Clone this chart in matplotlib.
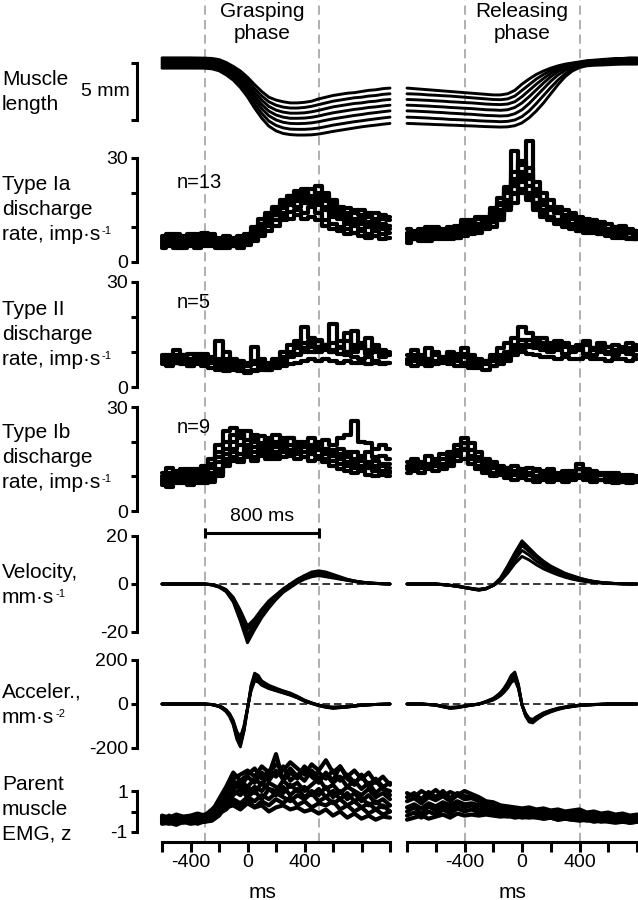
"""Grasping / releasing phase: muscle length, afferent discharge, kinematics and EMG traces."""

import numpy as np
import matplotlib
matplotlib.use("Agg")
import matplotlib.pyplot as plt
from matplotlib import transforms
from matplotlib.lines import Line2D

FIG_W, FIG_H = 638, 900

plt.rcParams['font.family'] = ['Liberation Sans', 'DejaVu Sans']
plt.rcParams['axes.unicode_minus'] = False

# time bases (ms)
t_left = np.arange(-600, 1001, 50)
t_right = np.arange(-800, 801, 50)
acc_t_left = [-600, -500, -400, -300, -250, -200, -175, -150, -125, -100, -75, -50, -25, 0,
              25, 50, 75, 100, 150, 200, 250, 300, 350, 400, 450, 500, 550, 600, 700, 800, 900, 1000]
acc_t_right = [-800, -700, -600, -550, -500, -450, -400, -350, -300, -250, -200, -175, -150, -125,
               -100, -75, -50, -25, 0, 25, 50, 75, 100, 150, 200, 250, 300, 400, 500, 600, 700, 800]

# muscle length (mm)
length_left = [
    [0.35, 0.35, 0.35, 0.35, 0.35, 0.34, 0.33, 0.3, 0.2, -0.05, -0.4, -0.8, -1.35, -2.0, -2.6, -3.1, -3.35,
     -3.5, -3.6, -3.6, -3.55, -3.45, -3.25, -3.1, -2.95, -2.85, -2.75, -2.7, -2.6, -2.5, -2.45, -2.35, -2.3],
    [0.2, 0.2, 0.2, 0.2, 0.2, 0.2, 0.19, 0.16, 0.03, -0.23, -0.57, -1.03, -1.63, -2.35, -2.99, -3.5, -3.8,
     -3.97, -4.05, -4.05, -4.0, -3.9, -3.75, -3.6, -3.45, -3.35, -3.25, -3.15, -3.1, -3.0, -2.95, -2.85, -2.8],
    [0.05, 0.05, 0.05, 0.05, 0.05, 0.05, 0.04, 0.0, -0.13, -0.41, -0.77, -1.27, -1.91, -2.68, -3.36, -3.91, -4.23,
     -4.41, -4.5, -4.5, -4.47, -4.38, -4.25, -4.1, -3.95, -3.85, -3.75, -3.65, -3.6, -3.5, -3.45, -3.35, -3.3],
    [-0.1, -0.1, -0.1, -0.1, -0.1, -0.1, -0.11, -0.15, -0.29, -0.59, -0.97, -1.51, -2.19, -3.01, -3.74, -4.32, -4.66,
     -4.85, -4.95, -4.95, -4.93, -4.86, -4.75, -4.6, -4.47, -4.37, -4.27, -4.17, -4.1, -4.0, -3.95, -3.87, -3.8],
    [-0.25, -0.25, -0.25, -0.25, -0.25, -0.25, -0.26, -0.3, -0.46, -0.77, -1.18, -1.74, -2.46, -3.34, -4.11, -4.73,
     -5.09, -5.3, -5.4, -5.42, -5.4, -5.35, -5.25, -5.12, -5.0, -4.9, -4.8, -4.7, -4.62, -4.52, -4.45, -4.37, -4.3],
    [-0.4, -0.4, -0.4, -0.4, -0.4, -0.4, -0.41, -0.45, -0.62, -0.95, -1.39, -2.0, -2.77, -3.7, -4.53, -5.19, -5.57,
     -5.79, -5.9, -5.92, -5.92, -5.88, -5.8, -5.68, -5.55, -5.45, -5.35, -5.25, -5.17, -5.08, -5.0, -4.92, -4.85],
    [-0.55, -0.55, -0.55, -0.55, -0.55, -0.55, -0.56, -0.61, -0.78, -1.14, -1.6, -2.25, -3.07, -4.06, -4.94, -5.64,
     -6.05, -6.28, -6.38, -6.42, -6.42, -6.4, -6.33, -6.22, -6.1, -6.0, -5.9, -5.8, -5.7, -5.62, -5.55, -5.47, -5.4],
]
length_right = [
    [-2.3, -2.35, -2.4, -2.45, -2.5, -2.55, -2.6, -2.65, -2.7, -2.75, -2.8, -2.85, -2.9, -2.9, -2.8, -2.5, -1.95,
     -1.5, -1.1, -0.8, -0.55, -0.35, -0.2, -0.1, 0.0, 0.1, 0.15, 0.2, 0.25, 0.3, 0.3, 0.35, 0.35],
    [-2.8, -2.82, -2.85, -2.9, -2.93, -2.97, -3.0, -3.05, -3.1, -3.15, -3.2, -3.25, -3.3, -3.32, -3.25, -3.0, -2.5,
     -2.0, -1.5, -1.1, -0.75, -0.5, -0.3, -0.15, -0.05, 0.05, 0.1, 0.15, 0.2, 0.22, 0.25, 0.27, 0.28],
    [-3.3, -3.32, -3.35, -3.38, -3.42, -3.45, -3.5, -3.53, -3.57, -3.6, -3.65, -3.7, -3.73, -3.75, -3.7, -3.5, -3.05,
     -2.5, -1.95, -1.45, -1.0, -0.65, -0.4, -0.25, -0.12, -0.02, 0.05, 0.1, 0.13, 0.15, 0.18, 0.2, 0.2],
    [-3.8, -3.82, -3.85, -3.88, -3.92, -3.95, -4.0, -4.03, -4.07, -4.1, -4.15, -4.2, -4.22, -4.25, -4.2, -4.0, -3.6,
     -3.05, -2.45, -1.85, -1.3, -0.85, -0.55, -0.35, -0.2, -0.1, -0.03, 0.02, 0.05, 0.08, 0.1, 0.12, 0.12],
    [-4.3, -4.32, -4.35, -4.38, -4.42, -4.45, -4.5, -4.53, -4.57, -4.6, -4.65, -4.7, -4.72, -4.75, -4.72, -4.55, -4.2,
     -3.65, -3.0, -2.35, -1.7, -1.15, -0.75, -0.5, -0.3, -0.18, -0.1, -0.05, -0.02, 0.0, 0.02, 0.03, 0.03],
    [-4.85, -4.87, -4.9, -4.93, -4.97, -5.0, -5.05, -5.07, -5.1, -5.13, -5.17, -5.2, -5.22, -5.25, -5.22, -5.1, -4.8,
     -4.3, -3.65, -2.95, -2.25, -1.6, -1.05, -0.65, -0.4, -0.25, -0.2, -0.15, -0.12, -0.1, -0.1, -0.08, -0.08],
    [-5.4, -5.42, -5.45, -5.47, -5.5, -5.52, -5.55, -5.57, -5.6, -5.62, -5.65, -5.68, -5.7, -5.72, -5.7, -5.6, -5.35,
     -4.9, -4.3, -3.6, -2.8, -2.0, -1.3, -0.8, -0.5, -0.35, -0.3, -0.28, -0.25, -0.22, -0.2, -0.2, -0.2],
]

# type Ia discharge (imp/s)
ia_left = [
    [7, 8, 7.5, 6.5, 8, 7, 8.5, 7.5, 6.5, 7, 6, 7.5, 8, 10, 12.5, 14, 15.5, 17, 18, 19.5, 18.5, 21, 20, 19, 17,
     16, 15.5, 14, 15, 13, 14, 12.5, 13],
    [5.5, 6, 5, 6.5, 5.5, 6, 5.5, 6.5, 5, 5.5, 5, 6, 6.5, 8.5, 10, 12, 13.5, 15.5, 17, 16, 18, 17, 22, 18.5, 15,
     14, 12, 12.5, 11, 11.5, 10, 10.5, 9.5],
    [4.5, 5, 4, 5, 4.5, 5.5, 5, 4.5, 4, 4.5, 4.5, 5, 5.5, 7, 8.5, 10.5, 12, 13, 14.5, 15, 14, 16, 14, 12, 11,
     10, 9.5, 8.5, 9, 8, 7.5, 8, 7],
    [6.5, 7, 6, 7.5, 6.5, 8, 7, 6, 5.5, 6, 5.5, 6.5, 7.5, 9, 11, 13.5, 16, 18, 19, 20.5, 21, 19, 18, 17.5, 16,
     14.5, 13.5, 12, 12.5, 11, 12, 11, 10.5],
    [5, 5.5, 6.5, 5, 6, 5, 6.5, 5.5, 5, 6.5, 4.5, 5.5, 6, 7.5, 9.5, 11, 13.5, 14, 16.5, 18, 17, 18.5, 16.5, 15, 13,
     12.5, 11, 10.5, 9.5, 10, 9, 9.5, 8.5],
    [6, 7.5, 5.5, 7, 6, 7.5, 6, 7, 6, 5, 6.5, 5, 7, 8, 11, 12.5, 14.5, 16, 17.5, 18.5, 19.5, 17, 19, 16, 14,
     13, 12.5, 11, 11.5, 10.5, 11, 10, 10.5],
    [7.5, 6.5, 8, 6, 7, 6.5, 7.5, 8, 7, 7.5, 7, 6, 6.5, 9, 10.5, 12.5, 15, 16.5, 19, 17.5, 20, 18, 17, 20, 18,
     15.5, 14, 15, 13.5, 14, 12.5, 13.5, 12],
    [4, 4.5, 5.5, 4, 5, 4, 4.5, 5, 4.5, 4, 5, 4, 5, 6, 7.5, 9, 10.5, 12, 12.5, 13.5, 12.5, 13, 12, 10.5, 9.5,
     9, 8, 8.5, 7.5, 7, 7.5, 6.5, 7],
]
ia_right = [
    [8, 9, 7.5, 10, 8.5, 9, 8, 10.5, 9, 11, 12.5, 11, 13, 15, 18, 22, 25, 27, 23, 20, 18, 16, 15, 14, 13,
     12.5, 12, 11.5, 11, 10, 10.5, 9.5, 9],
    [6.5, 7, 6, 7.5, 6.5, 7.5, 7, 8, 9.5, 8, 9, 10.5, 11.5, 13, 16, 19.5, 24, 35, 17, 15, 13, 12, 11, 10.5, 9.5,
     9, 9.5, 8.5, 8, 8.5, 7.5, 7, 7],
    [7.5, 6.5, 8.5, 7, 9, 7.5, 9.5, 8.5, 12, 10, 11, 13, 15.5, 17, 21, 32, 26, 22, 19, 16.5, 15, 14, 12.5, 11, 12,
     10.5, 10, 9.5, 9, 8.5, 8, 8.5, 7.5],
    [9.5, 8, 9, 6.5, 7.5, 8, 6.5, 7, 8, 9, 10, 9.5, 10, 12, 15, 17, 20, 18, 15, 13, 12, 11.5, 10, 9.5, 9,
     8.5, 9, 8, 7.5, 7, 7.5, 6.5, 6.5],
    [7, 7.5, 8.5, 8, 7, 9.5, 10, 9, 10.5, 12, 10.5, 12, 14, 16.5, 20, 24, 28, 24, 21, 18, 16, 15, 13.5, 12.5, 11,
     11.5, 10, 10.5, 9.5, 9, 9.5, 8.5, 8],
    [6, 6.5, 7, 6, 8, 6.5, 7.5, 7, 8.5, 9.5, 8.5, 10, 12, 14.5, 17, 23, 21, 19, 16, 14, 12.5, 11, 10.5, 10, 9,
     9.5, 8.5, 8, 8.5, 7.5, 7, 7, 6.5],
    [8.5, 7.5, 9.5, 9, 10, 8.5, 8, 9.5, 11, 10.5, 13, 12, 14.5, 18.5, 21.5, 26, 29, 25, 20, 17.5, 15.5, 14, 12, 13,
     11.5, 10.5, 11, 10, 9.5, 10, 9, 8.5, 9],
    [5.5, 7, 6.5, 8, 7, 8, 9, 8, 7.5, 8.5, 9.5, 11, 11.5, 13.5, 16, 20, 23, 20, 17, 14.5, 13, 12, 11.5, 10, 10.5,
     9.5, 9, 8.5, 8, 7.5, 8, 7, 6.5],
]

# type II discharge (imp/s)
ii_left = [
    [8, 9, 7, 8, 9.5, 8, 7.5, 8, 13, 7, 6.5, 7, 6, 11.5, 6.5, 7, 8, 10, 12, 13, 17, 14, 13, 12, 18,
     13, 15.5, 12, 11, 14, 11, 10, 9],
    [7, 6.5, 8, 7, 6, 7, 6.5, 7, 6, 5.5, 6, 5, 4.5, 5, 5.5, 5, 6, 7, 8.5, 9, 10, 11.5, 10, 12, 10.5,
     11, 13, 10, 12, 10.5, 11, 9.5, 10],
    [6.5, 6, 7, 6.5, 6, 6.5, 6, 5.5, 5, 4.5, 5, 4.5, 4, 4.5, 5, 5, 5.5, 6, 6.5, 7, 7.5, 8, 7.5, 8, 7.5,
     7, 7.5, 7, 7, 6.5, 7, 6.5, 7],
    [9, 8, 10.5, 9, 8, 9.5, 8, 7, 7.5, 10, 8, 6, 6.5, 7, 6, 6.5, 7, 8, 9, 11, 12.5, 10, 11, 12, 10,
     11.5, 10, 16, 11, 10, 12, 10.5, 9.5],
    [7.5, 8.5, 7, 9, 7, 8, 9, 8.5, 7, 8, 7, 7.5, 6.5, 7.5, 7, 6.5, 7.5, 8, 9, 9.5, 11, 12, 13.5, 11, 10,
     9.5, 9, 8.5, 8, 8.5, 7.5, 7, 7],
    [8.5, 7.5, 9, 8.5, 7, 8.5, 9.5, 7.5, 8, 6.5, 7, 6, 7, 6.5, 8, 6, 7, 8.5, 10, 12, 11, 13, 11.5, 10.5, 12.5,
     11.5, 10, 11, 12.5, 9.5, 10, 8.5, 9],
]
ii_right = [
    [9, 10.5, 8, 11, 9, 8.5, 10, 9.5, 11, 9, 8, 7.5, 9, 11, 12.5, 14, 17, 15.5, 13, 14, 12.5, 13, 12, 11.5, 12,
     13, 11, 12.5, 11.5, 12, 11, 12.5, 12],
    [7, 7.5, 8.5, 7, 7.5, 8, 7, 7.5, 7, 6.5, 6, 6.5, 6, 7.5, 9, 11, 12, 11.5, 11, 10.5, 10, 10.5, 9.5, 10, 10.5,
     9.5, 9, 10, 9.5, 9, 10, 9.5, 9],
    [6.5, 6, 6.5, 6, 6.5, 7, 6.5, 6, 6, 5.5, 5.5, 5, 6, 6.5, 7.5, 9, 10, 9.5, 9, 8.5, 8.5, 8, 8.5, 8, 8,
     8.5, 8, 8, 7.5, 8, 8, 7.5, 8],
    [8, 9, 7.5, 8, 10, 8.5, 9, 8, 8.5, 7.5, 7, 7.5, 8.5, 9, 10, 12, 13.5, 12, 14, 11.5, 11, 12, 12.5, 11, 10.5,
     12, 11, 10.5, 11.5, 10, 10.5, 11, 10.5],
    [7.5, 8, 9, 8, 9.5, 7.5, 8, 8.5, 9.5, 8, 6.5, 7, 7.5, 8, 8.5, 10, 11, 13.5, 12, 12.5, 11.5, 11, 11.5, 10.5, 11,
     9.5, 10.5, 11.5, 10, 10.5, 11.5, 10, 11],
]

# type Ib discharge (imp/s)
ib_left = [
    [10, 11, 10.5, 11.5, 12, 11, 12, 13.5, 17, 20, 22, 21, 23, 20, 21.5, 19, 22, 20, 21, 19.5, 20, 21, 19, 20.5, 19,
     21, 22, 26, 20, 19.5, 18, 19, 18],
    [8, 8.5, 9, 8, 9.5, 8.5, 9, 10, 12, 15, 17, 16.5, 18, 17, 17.5, 18, 17, 18.5, 17.5, 18, 17, 18, 17.5, 16.5, 16,
     15, 15.5, 14, 14.5, 13.5, 13, 13.5, 12.5],
    [7.5, 7, 8, 8.5, 7.5, 8, 8, 8.5, 10, 13, 14.5, 15, 15.5, 14.5, 16, 15, 16, 15.5, 16.5, 15, 15.5, 14.5, 15, 14, 13,
     12, 11.5, 11, 11.5, 10.5, 10, 10.5, 10],
    [11, 12.5, 11.5, 12, 10.5, 12, 13, 15, 19, 23, 24, 22, 20.5, 22, 19.5, 21, 20, 19, 21, 20, 18.5, 19, 20, 18, 17.5,
     18, 16.5, 17, 16, 17, 15.5, 16, 15],
    [9, 9.5, 10, 9.5, 10, 10.5, 10, 11, 14, 16.5, 18, 19, 17.5, 18.5, 18, 17, 19, 18, 17.5, 18.5, 19, 17, 18, 17.5, 16,
     15.5, 14, 13.5, 13, 12.5, 12, 11.5, 11],
    [9.5, 10.5, 9, 10.5, 11, 9.5, 11, 12.5, 15.5, 18, 20, 23, 19, 21, 18.5, 20, 18.5, 21, 19, 17.5, 19, 18.5, 17.5,
     18, 17, 16.5, 17, 15, 15.5, 14, 14.5, 13, 13.5],
    [8.5, 8, 9.5, 9, 8.5, 9, 9.5, 9, 11, 14, 15.5, 14, 16.5, 15.5, 17, 16, 15, 17, 16, 16.5, 15.5, 16.5, 16, 15, 14.5,
     13.5, 13, 12.5, 12, 12.5, 11.5, 11, 11.5],
]
ib_right = [
    [14, 15, 13.5, 16, 15, 16.5, 17, 19, 18, 16, 14.5, 13, 13.5, 12, 12.5, 11.5, 12, 11, 11.5, 10.5, 11, 10.5, 11,
     11.5, 13.5, 12, 11.5, 11, 10.5, 11, 10, 10.5, 10],
    [12, 11.5, 12.5, 12, 13, 12.5, 14, 16, 17.5, 15, 13, 12, 11, 11.5, 10.5, 11, 10, 10.5, 9.5, 10, 9.5, 10, 9,
     9.5, 10.5, 10, 9.5, 9, 9.5, 9, 8.5, 9, 8.5],
    [13, 14, 12.5, 13.5, 14.5, 13.5, 15, 17.5, 21, 19.5, 17, 15, 14, 13, 12.5, 13, 12, 12.5, 12, 11.5, 12, 11, 11.5,
     11, 12, 11.5, 11, 10.5, 11, 10, 10.5, 10, 9.5],
    [11, 12, 11, 12.5, 11.5, 12, 13, 14.5, 15, 13.5, 12, 11, 10, 10.5, 9.5, 9, 9.5, 9, 8.5, 9, 8.5, 9, 8.5,
     9, 9.5, 9, 8.5, 9, 8.5, 8, 8.5, 8, 8.5],
    [12.5, 13, 14, 13, 14, 15, 16, 17, 19.5, 17.5, 15.5, 14, 12.5, 12, 11.5, 10.5, 11, 10.5, 10, 10.5, 10, 9.5, 10,
     10.5, 12, 11, 10, 10.5, 10, 9.5, 9.5, 9, 9],
]

# velocity (mm/s)
vel_left = [
    [0, 0, 0, 0, 0, 0, 0, -0.4, -1.3, -3.2, -7.5, -15.5, -24.5, -19, -14, -10, -6.5, -3.5, -1.5, 0.5, 2, 3, 3.5, 3,
     2.5, 2, 1.5, 1, 0.6, 0.3, 0.2, 0.1, 0],
    [0, 0, 0, 0, 0, 0, 0, -0.3, -1.1, -2.8, -6.5, -13.5, -21, -17, -12.5, -9, -6, -3, -0.8, 1.2, 3, 4.5, 5, 4.5,
     3.5, 2.5, 1.8, 1.2, 0.8, 0.5, 0.3, 0.1, 0],
    [0, 0, 0, 0, 0, 0, 0, -0.3, -1, -2.5, -6, -12, -19, -15.5, -11.5, -8, -5, -2.5, -0.3, 1.5, 3.5, 5, 5.5, 5,
     4, 3, 2, 1.3, 0.8, 0.5, 0.3, 0.1, 0],
    [0, 0, 0, 0, 0, 0, 0, -0.2, -0.9, -2.3, -5.5, -11, -17.5, -14.5, -10.5, -7, -4.5, -2, 0, 2, 3.5, 4.5, 4.5, 4,
     3.5, 2.5, 1.8, 1.2, 0.7, 0.4, 0.2, 0.1, 0],
    [0, 0, 0, 0, 0, 0, 0, -0.4, -1.2, -3, -7, -14.5, -22.5, -18, -13, -9.5, -6, -3.2, -1.2, 0.8, 2.5, 3.5, 4, 3.5,
     3, 2.2, 1.6, 1.1, 0.7, 0.4, 0.2, 0.1, 0],
]
vel_right = [
    [0, 0, 0, 0, 0, -0.3, -0.6, -1, -1.5, -2, -2.5, -2, -0.5, 2.5, 7.5, 13, 18, 15, 12, 9.5, 7.5, 6, 4.5, 3.5,
     2.5, 1.7, 1.1, 0.7, 0.4, 0.2, 0.1, 0, 0],
    [0, 0, 0, 0, 0, -0.3, -0.6, -1, -1.5, -2, -2.4, -1.9, -0.6, 2, 6.5, 11.5, 16, 13.5, 11, 8.5, 6.8, 5.3, 4, 3,
     2.2, 1.5, 1, 0.6, 0.4, 0.2, 0.1, 0, 0],
    [0, 0, 0, 0, 0, -0.2, -0.5, -0.9, -1.4, -1.9, -2.3, -1.8, -0.6, 1.6, 5.5, 10, 14, 12, 9.5, 7.5, 6, 4.6, 3.5,
     2.6, 1.8, 1.2, 0.8, 0.5, 0.3, 0.2, 0.1, 0, 0],
    [0, 0, 0, 0, 0, -0.2, -0.5, -0.8, -1.3, -1.8, -2.2, -1.8, -0.7, 1.2, 4.5, 8.5, 11.5, 10, 8, 6.3, 5, 3.8, 2.8,
     2, 1.4, 0.9, 0.6, 0.4, 0.2, 0.1, 0, 0, 0],
    [0, 0, 0, 0, 0, -0.3, -0.6, -1, -1.5, -2.1, -2.6, -2.1, -0.5, 2.2, 7, 12.5, 17, 14, 11.5, 9, 7, 5.5, 4.2, 3.2,
     2.3, 1.6, 1, 0.6, 0.4, 0.2, 0.1, 0, 0],
]

# acceleration (mm/s^2)
acc_left = [
    [0, 0, 0, 0, -3, -12, -22, -35, -58, -95, -160, -195, -125, -25, 85, 140, 130, 105, 85, 72, 60, 50, 35, 18,
     5, -6, -14, -18, -14, -6, -2, 0],
    [0, 0, 0, 0, -3, -10, -18, -30, -50, -85, -140, -170, -110, -20, 70, 115, 110, 90, 75, 65, 55, 45, 30, 15,
     5, -5, -12, -15, -12, -5, -2, 0],
    [0, 0, 0, 0, -2, -8, -15, -26, -44, -75, -125, -150, -100, -18, 60, 105, 100, 85, 70, 60, 50, 40, 28, 12,
     2, -8, -15, -20, -14, -6, -2, 0],
    [0, 0, 0, 0, -3, -11, -20, -32, -54, -90, -150, -185, -120, -22, 78, 128, 120, 98, 80, 68, 58, 47, 33, 16,
     4, -6, -13, -17, -13, -5, -2, 0],
    [0, 0, 0, 0, -2, -9, -16, -28, -47, -80, -132, -160, -105, -19, 65, 110, 105, 88, 72, 62, 52, 42, 29, 14,
     3, -5, -11, -14, -11, -5, -2, 0],
]
acc_right = [
    [0, 0, -5, -12, -20, -16, -10, -5, 0, 12, 26, 38, 52, 72, 98, 130, 145, 90, -5, -55, -82, -86, -72, -50,
     -36, -25, -17, -7, -3, 0, 0, 0],
    [0, 0, -5, -12, -18, -15, -10, -5, 0, 10, 22, 32, 45, 62, 85, 115, 130, 80, -5, -50, -75, -78, -65, -45,
     -32, -22, -15, -6, -3, 0, 0, 0],
    [0, 0, -4, -10, -15, -13, -8, -4, 0, 8, 18, 27, 38, 53, 72, 98, 110, 70, -3, -42, -65, -70, -58, -40,
     -28, -19, -13, -5, -2, 0, 0, 0],
    [0, 0, -6, -13, -19, -17, -11, -6, -1, 11, 24, 35, 48, 67, 92, 122, 138, 85, -4, -52, -78, -82, -68, -48,
     -34, -23, -16, -7, -3, 0, 0, 0],
    [0, 0, -4, -11, -16, -14, -9, -4, 0, 9, 20, 29, 41, 57, 78, 105, 120, 75, -4, -46, -70, -74, -62, -42,
     -30, -20, -14, -5, -2, 0, 0, 0],
]

# parent muscle EMG (z)
emg_left = [
    [-0.2, -0.3, -0.15, -0.25, -0.2, -0.1, -0.2, 0.1, 0.4, 1.0, 1.6, 1.8, 2.0, 1.7, 2.2, 1.9, 2.3, 2.0, 2.4, 2.1,
     1.8, 2.3, 2.0, 2.5, 1.9, 2.2, 1.7, 2.0, 1.6, 1.9, 1.4, 1.7, 1.3],
    [-0.35, -0.25, -0.4, -0.3, -0.35, -0.25, -0.15, -0.05, 0.3, 0.8, 1.3, 1.5, 1.2, 1.6, 1.3, 1.8, 2.8, 1.5, 1.9,
     1.6, 2.1, 1.7, 1.4, 1.9, 1.5, 2.2, 1.6, 1.3, 1.8, 1.2, 1.5, 1.1, 1.0],
    [-0.5, -0.4, -0.55, -0.45, -0.5, -0.4, -0.45, -0.3, 0.0, 0.5, 1.0, 0.8, 1.2, 0.9, 1.4, 1.1, 1.0, 1.5, 1.2,
     1.4, 1.0, 1.3, 1.6, 1.1, 1.3, 0.9, 1.2, 1.0, 0.8, 1.1, 0.7, 0.9, 0.6],
    [-0.6, -0.55, -0.65, -0.5, -0.6, -0.55, -0.5, -0.45, -0.2, 0.3, 0.6, 0.4, 0.7, 0.5, 0.8, 0.6, 0.9, 0.7, 0.5,
     0.8, 0.6, 0.9, 0.5, 0.7, 0.4, 0.6, 0.3, 0.5, 0.2, 0.4, 0.1, 0.3, 0.0],
    [-0.45, -0.5, -0.35, -0.45, -0.4, -0.5, -0.35, -0.2, 0.1, 0.2, 0.3, 0.1, 0.4, 0.2, 0.3, 0.0, 0.2, 0.3, 0.1,
     0.2, 0.0, 0.1, -0.1, 0.1, -0.2, 0.0, -0.3, -0.1, -0.35, -0.2, -0.4, -0.25, -0.3],
    [-0.3, -0.45, -0.3, -0.4, -0.25, -0.35, -0.3, -0.1, 0.2, 0.6, 1.1, 1.3, 0.9, 1.2, 1.0, 1.4, 1.2, 0.9, 1.3,
     1.0, 1.2, 0.8, 1.1, 0.7, 1.0, 0.6, 0.9, 0.5, 0.7, 0.3, 0.5, 0.2, 0.3],
    [-0.4, -0.2, -0.45, -0.3, -0.5, -0.25, -0.4, -0.15, 0.35, 0.9, 1.5, 1.2, 1.7, 1.4, 1.9, 1.5, 2.0, 1.6, 2.1,
     1.7, 2.2, 1.8, 1.9, 1.6, 2.0, 1.5, 1.8, 1.4, 1.7, 1.3, 1.6, 1.2, 1.4],
    [-0.55, -0.35, -0.6, -0.4, -0.55, -0.35, -0.5, -0.35, 0.05, 0.4, 0.8, 1.1, 0.7, 1.0, 0.6, 1.1, 0.8, 1.2, 0.8,
     1.1, 0.7, 1.0, 0.8, 1.2, 0.7, 1.0, 0.6, 0.9, 0.5, 0.8, 0.4, 0.6, 0.3],
    [-0.25, -0.4, -0.2, -0.35, -0.3, -0.2, -0.25, 0.0, 0.6, 1.2, 1.9, 1.5, 1.8, 2.1, 1.6, 2.0, 1.7, 2.2, 1.5,
     1.8, 1.5, 2.0, 1.6, 1.8, 1.4, 1.7, 1.2, 1.5, 1.1, 1.4, 0.9, 1.2, 0.8],
    [-0.5, -0.6, -0.45, -0.55, -0.45, -0.6, -0.45, -0.3, -0.1, 0.1, 0.5, 0.3, 0.6, 0.2, 0.5, 0.3, 0.6, 0.4, 0.7,
     0.3, 0.5, 0.2, 0.4, 0.3, 0.5, 0.1, 0.3, 0.0, 0.2, -0.1, 0.1, -0.15, 0.0],
]
emg_right = [
    [0.9, 0.7, 1.0, 0.8, 1.05, 0.75, 0.95, 0.8, 1.0, 0.85, 0.7, 0.5, 0.45, 0.3, 0.25, 0.2, 0.15, 0.2, 0.1, 0.15,
     0.05, 0.1, 0.0, 0.05, 0.1, -0.05, 0.0, -0.1, -0.05, -0.15, -0.1, -0.2, -0.15],
    [0.5, 0.65, 0.4, 0.7, 0.55, 0.75, 0.5, 0.8, 0.6, 0.65, 0.5, 0.35, 0.3, 0.15, 0.1, 0.05, 0.0, 0.05, -0.05,
     0.0, -0.1, -0.05, -0.15, -0.1, -0.2, -0.15, -0.2, -0.25, -0.2, -0.3, -0.25, -0.3, -0.3],
    [0.2, 0.35, 0.15, 0.4, 0.25, 0.45, 0.3, 0.5, 0.35, 0.4, 0.3, 0.2, 0.1, 0.0, -0.05, -0.1, -0.15, -0.1, -0.2,
     -0.15, -0.25, -0.2, -0.3, -0.25, -0.35, -0.3, -0.35, -0.4, -0.35, -0.45, -0.4, -0.45, -0.45],
    [-0.2, -0.05, -0.3, 0.0, -0.15, 0.1, -0.1, 0.15, 0.0, 0.1, -0.05, -0.1, -0.15, -0.2, -0.25, -0.2, -0.3, -0.25,
     -0.3, -0.35, -0.3, -0.4, -0.35, -0.4, -0.45, -0.4, -0.5, -0.45, -0.5, -0.55, -0.5, -0.55, -0.5],
    [-0.4, -0.3, -0.2, -0.35, -0.25, -0.15, -0.3, -0.1, -0.2, -0.15, -0.2, -0.15, -0.2, -0.25, -0.2, -0.3, -0.25,
     -0.3, -0.25, -0.35, -0.3, -0.4, -0.35, -0.4, -0.35, -0.45, -0.4, -0.5, -0.45, -0.5, -0.45, -0.55, -0.5],
    [0.7, 0.9, 0.6, 0.95, 0.7, 1.0, 0.65, 0.9, 0.75, 0.7, 0.55, 0.4, 0.3, 0.2, 0.15, 0.05, 0.1, 0.0, 0.05, -0.05,
     0.0, -0.1, -0.05, -0.15, -0.05, -0.2, -0.1, -0.2, -0.15, -0.25, -0.2, -0.3, -0.25],
    [0.0, 0.2, -0.1, 0.25, 0.05, 0.3, 0.1, 0.35, 0.2, 0.3, 0.1, 0.05, -0.05, -0.1, -0.15, -0.2, -0.2, -0.25, -0.2,
     -0.3, -0.25, -0.3, -0.25, -0.35, -0.3, -0.4, -0.35, -0.4, -0.45, -0.4, -0.5, -0.45, -0.45],
]

row_labels = ["Muscle\nlength",
              "Type Ia\ndischarge\nrate, imp·s",
              "Type II\ndischarge\nrate, imp·s",
              "Type Ib\ndischarge\nrate, imp·s",
              "Velocity,\nmm·s",
              "Acceler.,\nmm·s",
              "Parent\nmuscle\nEMG, z"]
row_label_sups = ["", "-1", "-1", "-1", "-1", "-2", ""]
unit_counts = ["", "n=13", "n=5", "n=9", "", "", ""]
phase_titles = ["Grasping\nphase", "Releasing\nphase"]
grasp_marks = [-300, 500]
release_marks = [-400, 400]

# layout in pixels (top-left origin)
LEFT_X = (162, 390)
RIGHT_X = (407, 637)
ROWS = [
    # top, bottom, ylim, yticks, ytick labels, label top, style
    (63, 120, (-5.1, -0.1), [-5.1, -0.1], ["", ""], 70, "line"),
    (158, 262, (0, 30), [0, 10, 20, 30], ["0", "", "", "30"], 175, "steps"),
    (282, 387, (0, 30), [0, 10, 20, 30], ["0", "", "", "30"], 300, "steps"),
    (407, 511, (0, 30), [0, 10, 20, 30], ["0", "", "", "30"], 423, "steps"),
    (536, 632, (-20, 20), [-20, 0, 20], ["-20", "0", "20"], 563, "line"),
    (660, 748, (-200, 200), [-200, 0, 200], ["-200", "0", "200"], 683, "line"),
    (791, 832, (-1, 1), [-1, 0, 1], ["-1", "", "1"], 775, "noisy"),
]
SPINE_W = 2.2
LINE_STEP = 25  # px between label lines


def add_px_axes(fig, x0, x1, y0, y1):
    """Add an axes from pixel edges measured from the top-left corner."""
    ax = fig.add_axes([x0 / FIG_W, 1 - y1 / FIG_H, (x1 - x0) / FIG_W, (y1 - y0) / FIG_H])
    ax.set_facecolor("none")
    for side in ("top", "right", "left", "bottom"):
        ax.spines[side].set_visible(False)
    ax.set_xticks([])
    ax.set_yticks([])
    return ax


def draw_traces(ax, t, traces, style):
    kw = dict(color="black", clip_on=False, solid_joinstyle="round", solid_capstyle="round")
    for tr in traces:
        if style == "steps":
            ax.plot(t, tr, lw=3.0, drawstyle="steps-mid", **kw)
        elif style == "noisy":
            ax.plot(t, tr, lw=3.0, **kw)
        else:
            ax.plot(t, tr, lw=2.1, **kw)


def put_row_label(fig, renderer, top_px, text, sup):
    """Write a row label line by line; the superscript goes after the last line."""
    lines = text.split("\n")
    for k, line in enumerate(lines):
        y = top_px + k * LINE_STEP
        t = fig.text(2 / FIG_W, 1 - y / FIG_H, line, ha="left", va="top", fontsize=15)
        if sup and k == len(lines) - 1:
            bb = t.get_window_extent(renderer)
            fig.text((bb.x1 + 1) / FIG_W, 1 - (y + 1) / FIG_H, sup, ha="left", va="top", fontsize=8)


def style_time_axis(ax, lo, hi):
    """Bottom time axis with ticks every 200 ms, labels at -400/0/400."""
    ax.spines["bottom"].set_visible(True)
    ax.spines["bottom"].set_linewidth(SPINE_W)
    ax.spines["bottom"].set_position(("outward", 7.2))
    ax.spines["bottom"].set_bounds(lo, hi)
    ticks = list(range(lo, hi + 1, 200))
    ax.set_xticks(ticks)
    ax.set_xticklabels([str(v) if v in (-400, 0, 400) else "" for v in ticks])
    ax.tick_params(axis="x", direction="out", length=7, width=SPINE_W, labelsize=14, pad=1.5)


def main():
    fig = plt.figure(figsize=(FIG_W / 100, FIG_H / 100), dpi=100)
    renderer = fig.canvas.get_renderer()

    left_sets = [length_left, ia_left, ii_left, ib_left, vel_left, acc_left, emg_left]
    right_sets = [length_right, ia_right, ii_right, ib_right, vel_right, acc_right, emg_right]

    axes_left, axes_right = [], []
    for i, (top, bot, ylim, yticks, ylabels, label_top, style) in enumerate(ROWS):
        axl = add_px_axes(fig, LEFT_X[0], LEFT_X[1], top, bot)
        axr = add_px_axes(fig, RIGHT_X[0], RIGHT_X[1], top, bot)
        axl.set_xlim(-600, 1000)
        axr.set_xlim(-800, 800)
        for ax in (axl, axr):
            ax.set_ylim(*ylim)

        # y axis on the left column, offset from the traces
        axl.spines["left"].set_visible(True)
        axl.spines["left"].set_linewidth(SPINE_W)
        axl.spines["left"].set_position(("outward", 18))
        axl.set_yticks(yticks)
        axl.set_yticklabels(ylabels)
        axl.tick_params(axis="y", direction="out", length=4.5, width=SPINE_W, labelsize=14, pad=2)

        tl = acc_t_left if i == 5 else t_left
        tr = acc_t_right if i == 5 else t_right
        draw_traces(axl, tl, left_sets[i], style)
        draw_traces(axr, tr, right_sets[i], style)

        if i in (4, 5):
            for ax in (axl, axr):
                ax.axhline(0, color="black", lw=1.1, ls=(0, (5, 2.5)), zorder=1)

        put_row_label(fig, renderer, label_top, row_labels[i], row_label_sups[i])
        if unit_counts[i]:
            axl.text(-500, 23 if i == 1 else 24, unit_counts[i], fontsize=14.5,
                     ha="left", va="center")

        axes_left.append(axl)
        axes_right.append(axr)

    # scale bar label for muscle length
    fig.text(130 / FIG_W, 1 - 92 / FIG_H, "5 mm", ha="right", va="center", fontsize=14)

    # 800 ms bar above the velocity panel
    axv = axes_left[4]
    axv.plot(grasp_marks, [21.3, 21.3], color="black", lw=2.2, marker="|", markersize=7,
             mew=2.2, clip_on=False)
    axv.text(sum(grasp_marks) / 2, 28, "800 ms", ha="center", va="center", fontsize=14)

    style_time_axis(axes_left[-1], -600, 1000)
    style_time_axis(axes_right[-1], -800, 800)
    fig.text(263 / FIG_W, 1 - 892 / FIG_H, "ms", ha="center", va="center", fontsize=15)
    fig.text(513 / FIG_W, 1 - 892 / FIG_H, "ms", ha="center", va="center", fontsize=15)

    # phase boundaries, drawn through the whole column
    y_bottom = 1 - 842 / FIG_H
    for ax, marks in ((axes_left[0], grasp_marks), (axes_right[0], release_marks)):
        trans = transforms.blended_transform_factory(ax.transData, fig.transFigure)
        for x in marks:
            fig.add_artist(Line2D([x, x], [y_bottom, 1.0], transform=trans, color="#9a9a9a",
                                  lw=1.1, ls=(0, (6, 3.5)), zorder=-1))

    fig.text(262 / FIG_W, 1 - 2 / FIG_H, phase_titles[0], ha="center", va="top", fontsize=15,
             linespacing=1.2)
    fig.text(522 / FIG_W, 1 - 2 / FIG_H, phase_titles[1], ha="center", va="top", fontsize=15,
             linespacing=1.2)

    fig.savefig("out.png", dpi=100)


if __name__ == "__main__":
    main()
